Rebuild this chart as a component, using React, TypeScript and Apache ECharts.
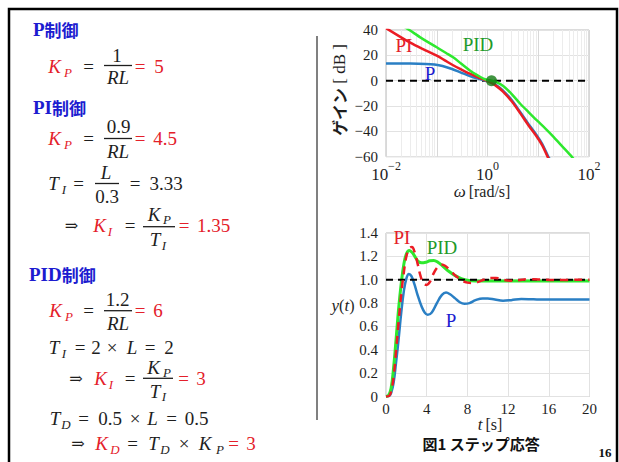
import React, { useEffect, useRef } from 'react';
import * as echarts from 'echarts';

const SERIF = 'Liberation Serif';
const CJK = 'Noto Sans CJK JP';
const RED = '#e4202a';
const BLK = '#1e1e1e';
const BLUE_T = '#1c1cd0';
const GREEN_T = '#1f9a2a';
const C_P = '#2a7fc4';
const C_PI = '#ec1c24';
const C_PID = '#2ee82e';

// ---- Bode gain plot data: [omega (rad/s), gain (dB)] ----
const bodeP: number[][] = [
  [0.01, 13.6], [0.03, 13.5], [0.06, 13.2], [0.09, 12.7], [0.13, 11.6], [0.2, 9.2], [0.3, 6.4],
  [0.45, 3.6], [0.65, 1.6], [0.85, 0.4], [1.0, -0.4], [1.2, -1.4], [1.5, -3.7], [2.0, -7.6],
  [3.0, -15.3], [4.4, -24.7], [6.5, -34.5], [9.3, -43], [12, -50], [15.8, -60], [17, -62],
];
const bodePI: number[][] = [
  [0.01, 41.5], [0.03, 30], [0.06, 24], [0.1, 19.8], [0.15, 15.6], [0.21, 12.2], [0.3, 9],
  [0.45, 5.5], [0.65, 2.6], [0.85, 0.8], [1.0, -0.3], [1.2, -1.8], [1.5, -4.3], [2.0, -8.4],
  [3.0, -16.3], [4.4, -25.6], [6.5, -35.5], [9.3, -44], [12, -51], [15.5, -60.5], [17, -63],
];
const bodePID: number[][] = [
  [0.02, 44], [0.0288, 40], [0.05, 33.6], [0.1, 26.4], [0.15, 22], [0.21, 18.5], [0.3, 13.6],
  [0.45, 8.1], [0.65, 4.0], [0.83, 1.6], [1.0, 0.6], [1.2, 0], [1.5, -1.2], [2.04, -4.2],
  [3.0, -10.6], [4.37, -18], [6.5, -25], [9.3, -31.2], [14, -38], [20, -44.3], [30, -52],
  [45.7, -60], [50, -62],
];
const bodeZeroLine: number[][] = [[0.01, 0], [100, 0]];
const bodeCross: number[][] = [[1.2, 0]];
const bodeLabelledDecades = [-2, 0, 2];
const bodeMinorGrid: number[] = [];
for (let k = -2; k <= 1; k++) for (let m = 2; m <= 9; m++) bodeMinorGrid.push(m * Math.pow(10, k));

// ---- Step response data: [t (s), y(t)] ----
const stepP: number[][] = [
  [0, 0], [0.3, 0.005], [0.5, 0.03], [0.75, 0.12], [1.0, 0.3], [1.25, 0.5], [1.5, 0.72],
  [1.75, 0.9], [2.0, 1.01], [2.25, 1.05], [2.5, 1.03], [2.8, 0.96], [3.1, 0.87], [3.5, 0.77],
  [3.8, 0.72], [4.1, 0.70], [4.5, 0.72], [5.0, 0.80], [5.5, 0.87], [5.9, 0.89], [6.3, 0.875],
  [6.8, 0.84], [7.3, 0.805], [7.7, 0.795], [8.2, 0.80], [8.8, 0.825], [9.5, 0.84], [10, 0.84],
  [10.7, 0.83], [11.5, 0.82], [12.3, 0.825], [13.3, 0.835], [14.5, 0.832], [16, 0.83],
  [18, 0.83], [20, 0.83],
];
const stepPI: number[][] = [
  [0, 0], [0.3, 0.005], [0.5, 0.04], [0.75, 0.17], [1.0, 0.4], [1.25, 0.65], [1.5, 0.88],
  [1.75, 1.06], [2.0, 1.2], [2.3, 1.27], [2.55, 1.28], [2.8, 1.24], [3.1, 1.14], [3.4, 1.03],
  [3.7, 0.97], [4.0, 0.955], [4.3, 0.98], [4.6, 1.04], [5.0, 1.1], [5.4, 1.13], [5.8, 1.12],
  [6.3, 1.08], [6.9, 1.03], [7.5, 0.99], [8.0, 0.975], [8.5, 0.972], [9.0, 0.98], [9.6, 1.0],
  [10.3, 1.015], [10.8, 1.015], [11.5, 1.0], [12.2, 0.992], [13, 0.995], [14, 1.004],
  [15, 1.002], [16.5, 0.998], [20, 1.0],
];
const stepPID: number[][] = [
  [0, 0], [0.25, 0.01], [0.5, 0.07], [0.75, 0.25], [1.0, 0.5], [1.25, 0.76], [1.5, 0.97],
  [1.75, 1.13], [2.0, 1.22], [2.3, 1.25], [2.6, 1.23], [2.9, 1.19], [3.2, 1.155], [3.5, 1.145],
  [3.9, 1.15], [4.3, 1.162], [4.7, 1.165], [5.1, 1.15], [5.6, 1.115], [6.2, 1.07], [6.8, 1.035],
  [7.4, 1.01], [8.0, 0.995], [8.8, 0.99], [10, 0.99], [14, 0.99], [20, 0.99],
];
const stepRefLine: number[][] = [[0, 1], [20, 1]];

// ---- helpers for the text graphics ----
type TOpt = { fill?: string; size?: number; italic?: boolean; bold?: boolean; family?: string; align?: string; rot?: number };
function tx(x: number, y: number, text: string, o: TOpt = {}) {
  const size = o.size || 19;
  const align = o.align || 'center';
  const family = o.family || SERIF;
  const fontStyle = o.italic ? 'italic' : 'normal';
  const fontWeight = o.bold ? 'bold' : 'normal';
  return {
    type: 'text',
    x,
    y,
    rotation: o.rot || 0,
    z: 50,
    style: {
      text,
      fill: o.fill || BLK,
      font: `${fontStyle} ${fontWeight} ${size}px "${family}"`,
      fontFamily: family,
      fontSize: size,
      fontStyle,
      fontWeight,
      lineHeight: Math.round(size * 0.85),
      align,
      verticalAlign: 'middle',
      textAlign: align,
      textVerticalAlign: 'middle',
    },
  };
}
function rich(x: number, y: number, text: string, richStyles: any, rot = 0, align = 'center') {
  return {
    type: 'text', x, y, rotation: rot, z: 50,
    style: { text, fontFamily: SERIF, align, verticalAlign: 'middle', textAlign: align, textVerticalAlign: 'middle', rich: richStyles },
  };
}
function bar(x1: number, x2: number, y: number) {
  return { type: 'line', z: 50, shape: { x1, y1: y, x2, y2: y }, style: { stroke: BLK, lineWidth: 1.3 } };
}
const V = { italic: true };
const S = (fill = BLK) => ({ italic: true, size: 13, fill });
const R = { fill: RED };
const RI = { fill: RED, italic: true };
const ARROW = { family: 'DejaVu Serif', size: 16 };

const headRich = {
  a: { fontFamily: SERIF, fontWeight: 'bold', fontSize: 19, fill: BLUE_T, lineHeight: 17 },
  c: { fontFamily: CJK, fontWeight: 'bold', fontSize: 17, fill: BLUE_T, lineHeight: 17 },
};
function heading(xLeft: number, y: number, latin: string, cjk: string) {
  return rich(xLeft, y, `{a|${latin}}{c|${cjk}}`, headRich, 0, 'left');
}

function mathGraphics() {
  const g: any[] = [];
  g.push(heading(33, 29, 'P', '制御'));
  g.push(heading(33, 107, 'PI', '制御'));
  g.push(heading(29, 274, 'PID', '制御'));
  // row 1: K_P = 1/RL = 5
  g.push(tx(54.5, 66, 'K', RI), tx(68, 72, 'P', S(RED)), tx(88.5, 66, '='));
  g.push(tx(117, 55, '1'), bar(104, 132, 65.5), tx(118, 77.5, 'RL', V));
  g.push(tx(140, 66, '=', R), tx(159, 66, '5', R));
  // row 2: K_P = 0.9/RL = 4.5
  g.push(tx(54.5, 138, 'K', RI), tx(68, 144, 'P', S(RED)), tx(88.5, 138, '='));
  g.push(tx(118.5, 126, '0.9'), bar(104, 132, 138.5), tx(118, 151, 'RL', V));
  g.push(tx(140, 138, '=', R), tx(165, 138, '4.5', R));
  // row 3: T_I = L/0.3 = 3.33
  g.push(tx(53.5, 183, 'T', V), tx(64, 189, 'I', S()), tx(78.5, 183, '='));
  g.push(tx(106, 172, 'L', V), bar(95, 119, 183.5), tx(107, 196, '0.3'));
  g.push(tx(135, 183, '='), tx(166, 183, '3.33'));
  // row 4: => K_I = K_P/T_I = 1.35
  g.push(tx(71.5, 225, '⇒', ARROW), tx(99.5, 225, 'K', RI), tx(110, 231, 'I', S(RED)), tx(130, 225, '='));
  g.push(tx(154, 214, 'K', V), tx(167, 219, 'P', S()), bar(143, 175, 226.7), tx(155, 239, 'T', V), tx(164, 245, 'I', S()));
  g.push(tx(184, 225, '=', R), tx(213.5, 225, '1.35', R));
  // row 5: K_P = 1.2/RL = 6
  g.push(tx(55.5, 310, 'K', RI), tx(69, 316, 'P', S(RED)), tx(88.5, 310, '='));
  g.push(tx(117.5, 299, '1.2'), bar(104, 132, 310.7), tx(118, 323, 'RL', V));
  g.push(tx(140, 310, '=', R), tx(158, 310, '6', R));
  // row 6: T_I = 2 x L = 2
  g.push(tx(54, 347, 'T', V), tx(64, 353, 'I', S()), tx(80, 347, '='), tx(96, 347, '2'));
  g.push(tx(112, 347, '×'), tx(132, 347, 'L', V), tx(150, 347, '='), tx(169, 347, '2'));
  // row 7: => K_I = K_P/T_I = 3
  g.push(tx(76, 378, '⇒', ARROW), tx(100.5, 378, 'K', RI), tx(111, 384, 'I', S(RED)), tx(130, 378, '='));
  g.push(tx(153.5, 367, 'K', V), tx(167, 372, 'P', S()), bar(143, 173, 378.3), tx(155, 391, 'T', V), tx(164, 396, 'I', S()));
  g.push(tx(183.5, 378, '=', R), tx(201, 378, '3', R));
  // row 8: T_D = 0.5 x L = 0.5
  g.push(tx(55, 418, 'T', V), tx(66, 424, 'D', S()), tx(83.5, 418, '='), tx(110, 418, '0.5'));
  g.push(tx(135, 418, '×'), tx(152.5, 418, 'L', V), tx(171.5, 418, '='), tx(196.5, 418, '0.5'));
  // row 9: => K_D = T_D x K_P = 3
  g.push(tx(78, 443, '⇒', ARROW), tx(101.5, 443, 'K', RI), tx(115, 449, 'D', S(RED)), tx(132.5, 443, '='));
  g.push(tx(153.5, 443, 'T', V), tx(165, 449, 'D', S()), tx(184, 443, '×'), tx(205, 443, 'K', V), tx(220, 449, 'P', S()));
  g.push(tx(233.5, 443, '=', R), tx(251, 443, '3', R));
  return g;
}

const axName = {
  i: { fontFamily: SERIF, fontStyle: 'italic', fontSize: 17, fill: BLK, lineHeight: 15 },
  r: { fontFamily: SERIF, fontSize: 16, fill: BLK, lineHeight: 15 },
};

function plotGraphics() {
  const g: any[] = [];
  g.push({ type: 'rect', z: 60, shape: { x: 9, y: 9, width: 608, height: 480 }, style: { fill: 'none', stroke: '#000', lineWidth: 2.5 } });
  g.push({ type: 'line', z: 60, shape: { x1: 317, y1: 36, x2: 317, y2: 420 }, style: { stroke: '#808080', lineWidth: 2 } });
  // Bode labels
  g.push(tx(404, 45, 'PI', { fill: RED, size: 19 }));
  g.push(tx(478, 44, 'PID', { fill: GREEN_T, size: 19 }));
  g.push(tx(430, 73, 'P', { fill: BLUE_T, size: 19 }));
  g.push(rich(339, 90, '{j|ゲイン}{r| [ dB ]}', {
    j: { fontFamily: CJK, fontWeight: 'bold', fontSize: 16, fill: BLK, lineHeight: 17 },
    r: { fontFamily: SERIF, fontSize: 17, fill: BLK, lineHeight: 17 },
  }, Math.PI / 2));
  g.push(rich(482, 191, '{i|ω} {r|[rad/s]}', axName));
  // step labels
  g.push(tx(402, 237, 'PI', { fill: RED, size: 19 }));
  g.push(tx(442, 247, 'PID', { fill: GREEN_T, size: 19 }));
  g.push(tx(451, 320, 'P', { fill: BLUE_T, size: 19 }));
  g.push(rich(343, 305, '{i|y}{r|(}{i|t}{r|)}', axName));
  g.push(rich(490, 424, '{i|t} {r|[s]}', axName));
  g.push(tx(481, 443, '図1 ステップ応答', { family: CJK, bold: true, size: 15, fill: '#111' }));
  g.push(tx(605, 452, '16', { bold: true, size: 13, fill: '#111' }));
  return g;
}

const axisLabelStyle = { fontFamily: SERIF, fontSize: 15, color: BLK };
const gridLine = { show: true, lineStyle: { color: '#e2e2e2', width: 1 } };

function buildOption(): any {
  return {
    animation: false,
    backgroundColor: '#fff',
    textStyle: { fontFamily: SERIF },
    grid: [
      { left: 386, top: 30, width: 203, height: 126.7, show: true, borderColor: '#b8b8b8', borderWidth: 1 },
      { left: 386, top: 233, width: 203.5, height: 163.5, show: true, borderColor: '#b8b8b8', borderWidth: 1 },
    ],
    xAxis: [
      {
        gridIndex: 0, type: 'log', logBase: 10, min: 0.01, max: 100,
        axisLine: { show: false }, axisTick: { show: false }, splitLine: { show: true, lineStyle: { color: '#d8d8d8' } },
        axisLabel: {
          margin: 3,
          formatter: (v: number) => {
            const e = Math.round(Math.log10(v));
            if (!bodeLabelledDecades.includes(e)) return '';
            return `{b|10}{s|${e < 0 ? '−' : ''}${Math.abs(e)}}`;
          },
          rich: {
            b: { fontFamily: SERIF, fontSize: 17, color: BLK, verticalAlign: 'bottom', padding: [6, 0, 0, 0] },
            s: { fontFamily: SERIF, fontSize: 12, color: BLK, verticalAlign: 'top' },
          },
        },
      },
      {
        gridIndex: 1, type: 'value', min: 0, max: 20, interval: 4,
        axisLine: { show: false }, axisTick: { show: false }, splitLine: gridLine,
        axisLabel: { ...axisLabelStyle, margin: 5 },
      },
    ],
    yAxis: [
      {
        gridIndex: 0, type: 'value', min: -60, max: 40, interval: 20,
        axisLine: { show: false }, axisTick: { show: false }, splitLine: gridLine,
        axisLabel: { ...axisLabelStyle, margin: 8, formatter: (v: number) => (v < 0 ? '−' + -v : String(v)) },
      },
      {
        gridIndex: 1, type: 'value', min: 0, max: 1.4, interval: 0.2,
        axisLine: { show: false }, axisTick: { show: false }, splitLine: gridLine,
        axisLabel: { ...axisLabelStyle, margin: 8, formatter: (v: number) => (v === 0 ? '0' : v.toFixed(1)) },
      },
    ],
    series: [
      {
        type: 'line', xAxisIndex: 0, yAxisIndex: 0, data: [], z: 1, silent: true,
        markLine: {
          z: 1, silent: true, symbol: 'none', label: { show: false }, animation: false,
          lineStyle: { color: '#ececec', width: 1, type: 'solid' },
          emphasis: { disabled: true },
          data: bodeMinorGrid.map((v) => ({ xAxis: v })),
        },
      },
      { type: 'line', xAxisIndex: 0, yAxisIndex: 0, data: bodeZeroLine, symbol: 'none', z: 7, lineStyle: { color: '#000', width: 2, type: [7, 5] } },
      { type: 'line', xAxisIndex: 0, yAxisIndex: 0, data: bodeP, symbol: 'none', smooth: 0.3, z: 8, lineStyle: { color: C_P, width: 2.5 } },
      { type: 'line', xAxisIndex: 0, yAxisIndex: 0, data: bodePI, symbol: 'none', smooth: 0.3, z: 9, lineStyle: { color: C_PI, width: 2.5 } },
      { type: 'line', xAxisIndex: 0, yAxisIndex: 0, data: bodePID, symbol: 'none', smooth: 0.3, z: 10, lineStyle: { color: C_PID, width: 2.5 } },
      { type: 'scatter', xAxisIndex: 0, yAxisIndex: 0, data: bodeCross, symbolSize: 11, z: 11, itemStyle: { color: '#137a13' } },

      { type: 'line', xAxisIndex: 1, yAxisIndex: 1, data: stepP, symbol: 'none', smooth: 0.4, z: 8, lineStyle: { color: C_P, width: 2.5 } },
      { type: 'line', xAxisIndex: 1, yAxisIndex: 1, data: stepPID, symbol: 'none', smooth: 0.4, z: 9, lineStyle: { color: C_PID, width: 3 } },
      { type: 'line', xAxisIndex: 1, yAxisIndex: 1, data: stepRefLine, symbol: 'none', z: 10, lineStyle: { color: '#000', width: 2, type: [7, 5] } },
      { type: 'line', xAxisIndex: 1, yAxisIndex: 1, data: stepPI, symbol: 'none', smooth: 0.4, z: 11, lineStyle: { color: C_PI, width: 2.5, type: [8, 6] } },
    ],
    graphic: { elements: [...mathGraphics(), ...plotGraphics()] },
  };
}

export default function App() {
  const ref = useRef<HTMLDivElement>(null);
  useEffect(() => {
    const chart = echarts.init(ref.current!, null, { renderer: 'svg' });
    chart.setOption(buildOption());
    return () => chart.dispose();
  }, []);
  return (
    <div
      ref={ref}
      style={{ position: 'fixed', left: 0, top: 0, width: 619, height: 462, background: '#fff' }}
    />
  );
}
